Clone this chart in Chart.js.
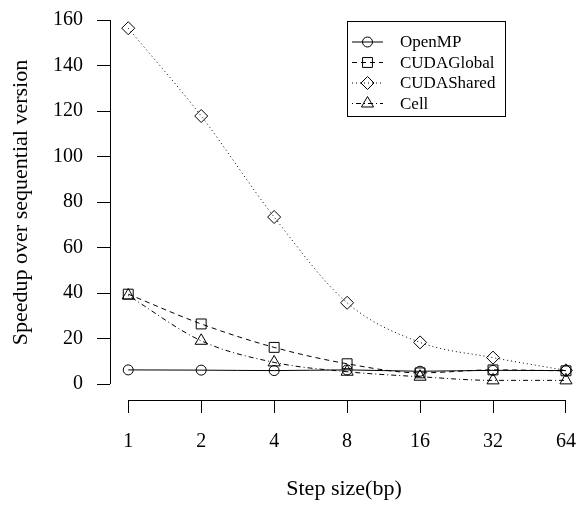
<!DOCTYPE html>
<html>
<head>
<meta charset="utf-8">
<script src="https://cdn.jsdelivr.net/npm/chart.js@4/dist/chart.umd.min.js"></script>
<style>
  html, body { margin: 0; background: #fff; }
</style>
</head>
<body>
<canvas id="myChart" width="578" height="505"></canvas>
<script>
// values
var stepSizes = ['1', '2', '4', '8', '16', '32', '64'];
var openMP = [6.2, 6.1, 5.9, 6.2, 5.6, 6.0, 5.9];
var cudaGlobal = [39.5, 26.4, 16.1, 8.9, 4.9, 6.2, 5.8];
var cudaShared = [156.4, 117.8, 73.4, 35.7, 18.3, 11.6, 6.0];
var cell = [38.9, 19.0, 9.5, 5.4, 3.2, 1.6, 1.6];
var yTicks = [0, 20, 40, 60, 80, 100, 120, 140, 160];

var serif = 'Liberation Serif';

function pts(arr) {
  return arr.map(function(v, i) { return {x: i, y: v}; });
}

function series(label, values, style, radius, dash) {
  return {
    label: label,
    data: pts(values),
    borderColor: '#000',
    borderWidth: 1,
    borderDash: dash,
    backgroundColor: 'rgba(0,0,0,0)',
    pointStyle: style,
    pointRadius: radius,
    pointBorderColor: '#000',
    pointBackgroundColor: 'rgba(0,0,0,0)',
    pointBorderWidth: 1,
    cubicInterpolationMode: 'monotone',
    fill: false
  };
}

// R style axes: lines only span first..last tick, plus a boxed legend
var rAxes = {
  id: 'rAxes',
  afterDraw: function(chart) {
    var ctx = chart.ctx, xs = chart.scales.x, ys = chart.scales.y;
    var area = chart.chartArea;
    ctx.save();
    ctx.strokeStyle = '#000';
    ctx.lineWidth = 1;
    ctx.beginPath();
    var lx = Math.round(area.left) + 0.5;
    ctx.moveTo(lx, ys.getPixelForValue(yTicks[0]));
    ctx.lineTo(lx, ys.getPixelForValue(yTicks[yTicks.length - 1]));
    var by = Math.round(area.bottom) + 0.5;
    ctx.moveTo(xs.getPixelForValue(0), by);
    ctx.lineTo(xs.getPixelForValue(stepSizes.length - 1), by);
    ctx.stroke();

    // legend
    ctx.strokeRect(347.5, 21.5, 158, 95);
    ctx.font = '17px "' + serif + '"';
    ctx.textBaseline = 'middle';
    ctx.textAlign = 'left';
    chart.data.datasets.forEach(function(ds, i) {
      var y = 42 + i * 20.5;
      ctx.beginPath();
      ctx.setLineDash(ds.borderDash || []);
      ctx.moveTo(352, y);
      ctx.lineTo(383, y);
      ctx.stroke();
      ctx.setLineDash([]);
      ctx.fillStyle = 'rgba(0,0,0,0)';
      Chart.helpers.drawPoint(ctx, {
        pointStyle: ds.pointStyle, radius: ds.pointRadius, rotation: 0, borderWidth: 1
      }, 367.5, y);
      ctx.fillStyle = '#000';
      ctx.fillText(ds.label, 400, y + 1);
    });
    ctx.restore();
  }
};

var ctx = document.getElementById('myChart').getContext('2d');
var chart = new Chart(ctx, {
  type: 'line',
  data: {
    datasets: [
      series('OpenMP', openMP, 'circle', 5, []),
      series('CUDAGlobal', cudaGlobal, 'rect', 7, [5, 4]),
      series('CUDAShared', cudaShared, 'rectRot', 6.5, [1, 3]),
      series('Cell', cell, 'triangle', 7, [1, 3, 5, 3])
    ]
  },
  options: {
    responsive: false,
    animation: false,
    devicePixelRatio: 1,
    events: [],
    layout: { autoPadding: false, padding: { top: 5, left: 0, right: 0, bottom: 0 } },
    plugins: { legend: { display: false }, tooltip: { enabled: false } },
    scales: {
      x: {
        type: 'linear',
        min: -0.25,
        max: 6.165,
        afterBuildTicks: function(s) {
          s.ticks = stepSizes.map(function(t, i) { return {value: i}; });
        },
        afterFit: function(s) {
          s.height = 105;
          s.paddingLeft = 0;
          s.paddingRight = 0;
        },
        border: { display: false },
        grid: { drawOnChartArea: false, drawTicks: true, tickLength: 13, color: '#000' },
        ticks: {
          color: '#000',
          padding: 17,
          maxRotation: 0,
          autoSkip: false,
          font: { family: serif, size: 20 },
          callback: function(v) { return stepSizes[v]; }
        },
        title: {
          display: true,
          text: 'Step size(bp)',
          color: '#000',
          font: { family: serif, size: 22 },
          padding: { top: 0, bottom: 3 }
        }
      },
      y: {
        type: 'linear',
        min: -7.03,
        max: 166.6,
        afterBuildTicks: function(s) {
          s.ticks = yTicks.map(function(v) { return {value: v}; });
        },
        afterFit: function(s) {
          s.width = 110;
          s.paddingTop = 0;
          s.paddingBottom = 0;
        },
        border: { display: false },
        grid: { drawOnChartArea: false, drawTicks: true, tickLength: 13, color: '#000' },
        ticks: {
          color: '#000',
          padding: 14,
          font: { family: serif, size: 20 }
        },
        title: {
          display: true,
          text: 'Speedup over sequential version',
          color: '#000',
          font: { family: serif, size: 22 },
          padding: { top: 8, bottom: 0 }
        }
      }
    }
  },
  plugins: [rAxes]
});
</script>
</body>
</html>
